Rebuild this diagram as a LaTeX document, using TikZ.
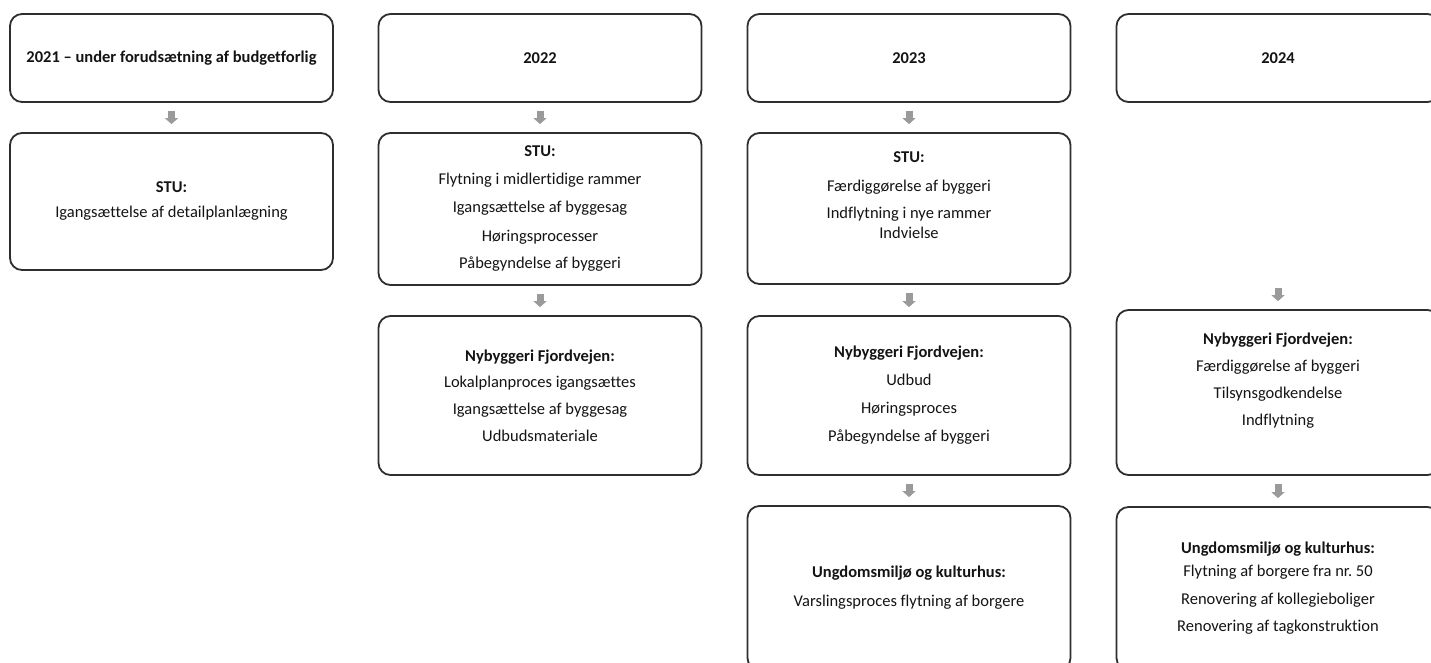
\documentclass[tikz,border=0pt]{standalone}
\usepackage{fontspec}
\setmainfont[Ligatures=NoCommon]{Carlito}
\usetikzlibrary{arrows.meta}

\begin{document}
\begin{tikzpicture}[x=1pt,y=-1pt,
  box/.style={draw=boxline,line width=1.8pt,rounded corners=12pt,fill=white,
    minimum width=323pt,inner sep=0pt,align=center,text=txt,
    font=\fontsize{16.5}{20}\selectfont},
  flow/.style={draw=arrowgray,line width=7pt,-{Triangle[width=13pt,length=6pt]},
    shorten <=8pt,shorten >=8pt}]
\definecolor{boxline}{HTML}{2E2E2E}
\definecolor{txt}{HTML}{141414}
\definecolor{arrowgray}{HTML}{9A9A9A}
\useasboundingbox[fill=white] (0,0) rectangle (1431,662);
\clip (0,0) rectangle (1431,662);
% year boxes
\foreach \nm/\cx/\txt in {y21/171.5/{2021 – under forudsætning af budgetforlig},
    y22/540/2022,y23/909/2023,y24/1278/2024}
  {\node[box,minimum height=88pt] (\nm) at (\cx,58) {\textbf{\txt}};}
% STU
\node[box,minimum height=137pt] (stu21) at (171.5,201.5)
  {\textbf{STU:}\\[5pt] Igangsættelse af detailplanlægning};
\node[box,minimum height=152pt] (stu22) at (540,209)
  {\textbf{STU:}\\[8pt] Flytning i midlertidige rammer\\[8pt] Igangsættelse af byggesag\\[8pt]
   Høringsprocesser\\[8pt] Påbegyndelse af byggeri};
\node[box,minimum height=151pt] (stu23) at (909,208.5)
  {\textbf{STU:}\\[9pt] Færdiggørelse af byggeri\\[7pt] Indflytning i nye rammer\\ Indvielse\\[7pt] \mbox{}};
% Nybyggeri Fjordvejen
\node[box,minimum height=159pt] (fjord22) at (540,395.5)
  {\textbf{Nybyggeri Fjordvejen:}\\[6pt] Lokalplanproces igangsættes\\[7pt]
   Igangsættelse af byggesag\\[7pt] Udbudsmateriale};
\node[box,minimum height=159pt] (fjord23) at (909,395.5)
  {\textbf{Nybyggeri Fjordvejen:}\\[8pt] Udbud\\[8pt] Høringsproces\\[8pt] Påbegyndelse af byggeri};
\node[box,minimum height=165pt] (fjord24) at (1278,392.5)
  {\textbf{Nybyggeri Fjordvejen:}\\[7pt] Færdiggørelse af byggeri\\[7pt] Tilsynsgodkendelse\\[7pt]
   Indflytning\\[7pt] \mbox{}};
% Ungdomsmiljø og kulturhus
\node[box,minimum height=164pt] (ung23) at (909,588)
  {\textbf{Ungdomsmiljø og kulturhus:}\\[9pt] Varslingsproces flytning af borgere};
\node[box,minimum height=163pt] (ung24) at (1278,588.5)
  {\textbf{Ungdomsmiljø og kulturhus:}\\[3pt] Flytning af borgere fra nr.\ 50\\[8pt]
   Renovering af kollegieboliger\\[7pt] Renovering af tagkonstruktion};
% arrows
\draw[flow] (y21) -- (stu21);
\draw[flow] (y22) -- (stu22);
\draw[flow] (stu22) -- (fjord22);
\draw[flow] (y23) -- (stu23);
\draw[flow] (stu23) -- (fjord23);
\draw[flow] (fjord23) -- (ung23);
\draw[flow,shorten <=185pt] (y24) -- (fjord24);
\draw[flow] (fjord24) -- (ung24);
\end{tikzpicture}
\end{document}
